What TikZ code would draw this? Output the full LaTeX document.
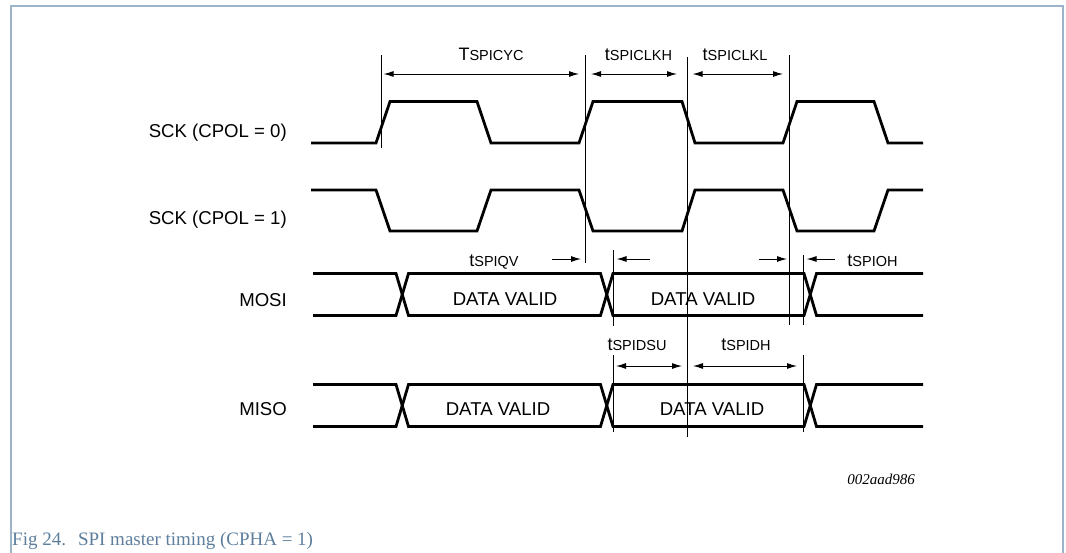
\documentclass[tikz,border=0pt]{standalone}
\usepackage{fontspec}
\setmainfont{Liberation Sans}
\newfontfamily\seriffont{Liberation Serif}
\usetikzlibrary{arrows.meta}
\definecolor{framecol}{HTML}{9DB3C7}
\definecolor{capcol}{HTML}{5D7E9C}
\newcommand{\tsub}[2]{#1{\fontsize{14.5}{16}\selectfont #2}}
\tikzset{
  sig/.style={line width=2.8pt, line join=miter, black},
  refline/.style={line width=0.9pt, black},
  dimone/.style={line width=1pt, -{Latex[length=10pt,width=6pt]}},
  dimboth/.style={line width=1pt, {Latex[length=10pt,width=6pt]}-{Latex[length=10pt,width=6pt]}},
  siglabel/.style={font=\fontsize{18.6}{20}\selectfont, inner sep=0pt, anchor=base east},
  datalabel/.style={font=\fontsize{18.6}{20}\selectfont, inner sep=0pt, anchor=base},
  timelabel/.style={font=\fontsize{18}{20}\selectfont, inner sep=0pt, anchor=base},
}
\begin{document}
\begin{tikzpicture}[x=1pt,y=-1pt]
\useasboundingbox (0,0) rectangle (1066,552);
% frame
\draw[framecol, line width=2pt] (11,553) -- (11,6) -- (1063,6) -- (1063,553);

% signal names
\node[siglabel] (nsck0) at (287,137) {SCK (CPOL = 0)};
\node[siglabel] (nsck1) at (287,224) {SCK (CPOL = 1)};
\node[siglabel] (nmosi) at (287,306) {MOSI};
\node[siglabel] (nmiso) at (287,415) {MISO};

% SCK CPOL=0
\draw[sig] (311,143) -- (376,143) -- (390,101.5) -- (477,101.5) -- (491,143) -- (579,143)
  -- (593,101.5) -- (682,101.5) -- (695,143) -- (783,143) -- (797,101.5) -- (874,101.5)
  -- (888,143) -- (923,143);
% SCK CPOL=1
\draw[sig] (311,190) -- (376,190) -- (390,231) -- (477,231) -- (491,190) -- (579,190)
  -- (593,231) -- (682,231) -- (695,190) -- (783,190) -- (797,231) -- (874,231)
  -- (888,190) -- (923,190);

% MOSI bus
\draw[sig] (313,273.5) -- (396,273.5) -- (408.5,315.5) -- (600.5,315.5) -- (613,273.5)
  -- (804,273.5) -- (816.5,315.5) -- (923,315.5);
\draw[sig] (313,315.5) -- (396,315.5) -- (408.5,273.5) -- (600.5,273.5) -- (613,315.5)
  -- (804,315.5) -- (816.5,273.5) -- (923,273.5);
% MISO bus
\draw[sig] (313,384.5) -- (396,384.5) -- (408.5,426.5) -- (600.5,426.5) -- (613,384.5)
  -- (804,384.5) -- (816.5,426.5) -- (923,426.5);
\draw[sig] (313,426.5) -- (396,426.5) -- (408.5,384.5) -- (600.5,384.5) -- (613,426.5)
  -- (804,426.5) -- (816.5,384.5) -- (923,384.5);

% data labels
\node[datalabel] (dv1) at (505,305) {DATA VALID};
\node[datalabel] (dv2) at (703,305) {DATA VALID};
\node[datalabel] (dv3) at (498,415.5) {DATA VALID};
\node[datalabel] (dv4) at (712,415.5) {DATA VALID};

% reference lines
\coordinate (v1t) at (381,55);   \coordinate (v1b) at (381,148);
\coordinate (v2t) at (585,55);   \coordinate (v2b) at (585,263);
\coordinate (v3t) at (687,57);   \coordinate (v3b) at (687,437);
\coordinate (v4t) at (789.5,55); \coordinate (v4b) at (789.5,325);
\coordinate (v5t) at (613,250);  \coordinate (v5b) at (613,326);
\coordinate (v5u) at (613,355);  \coordinate (v5d) at (613,432);
\coordinate (v6t) at (803.5,255);\coordinate (v6b) at (803.5,325);
\coordinate (v6u) at (803.5,355);\coordinate (v6d) at (803.5,432);
\draw[refline] (v1t) -- (v1b);
\draw[refline] (v2t) -- (v2b);
\draw[refline] (v3t) -- (v3b);
\draw[refline] (v4t) -- (v4b);
\draw[refline] (v5t) -- (v5b);
\draw[refline] (v5u) -- (v5d);
\draw[refline] (v6t) -- (v6b);
\draw[refline] (v6u) -- (v6d);

% dimension arrows
\coordinate (cyca) at (383.5,74);  \coordinate (cycb) at (579,74);
\coordinate (clkha) at (591,74);   \coordinate (clkhb) at (677,74);
\coordinate (clkla) at (692.5,74); \coordinate (clklb) at (783,74);
\draw[dimboth] (cyca) -- (cycb);
\draw[dimboth] (clkha) -- (clkhb);
\draw[dimboth] (clkla) -- (clklb);

\coordinate (qva) at (552,259);  \coordinate (qvb) at (581,259);
\coordinate (qvc) at (650,259);  \coordinate (qvd) at (616.5,259);
\coordinate (oha) at (759,259);  \coordinate (ohb) at (787,259);
\coordinate (ohc) at (835,259);  \coordinate (ohd) at (806.5,259);
\draw[dimone] (qva) -- (qvb);
\draw[dimone] (qvc) -- (qvd);
\draw[dimone] (oha) -- (ohb);
\draw[dimone] (ohc) -- (ohd);

\coordinate (dsua) at (616,366);  \coordinate (dsub) at (682,366);
\coordinate (dha) at (693,366);   \coordinate (dhb) at (797,366);
\draw[dimboth] (dsua) -- (dsub);
\draw[dimboth] (dha) -- (dhb);

% timing labels
\node[timelabel] (lcyc) at (491,60.7) {\tsub{T}{SPICYC}};
\node[timelabel] (lclkh) at (638.5,60.7) {\tsub{t}{SPICLKH}};
\node[timelabel] (lclkl) at (735,60.7) {\tsub{t}{SPICLKL}};
\node[timelabel] (lqv) at (494,266) {\tsub{t}{SPIQV}};
\node[timelabel] (loh) at (872.5,266) {\tsub{t}{SPIOH}};
\node[timelabel] (ldsu) at (637,350) {\tsub{t}{SPIDSU}};
\node[timelabel] (ldh) at (746,350) {\tsub{t}{SPIDH}};

% figure id and caption
\node[font=\seriffont\itshape\fontsize{15}{18}\selectfont, anchor=base, inner sep=0pt] (figid) at (881,484) {002aad986};
\node[font=\seriffont\fontsize{19}{22}\selectfont, text=capcol, anchor=base west, inner sep=0pt] (caption) at (12,545) {Fig 24.\hspace{12pt}SPI master timing (CPHA = 1)};
\end{tikzpicture}
\end{document}
